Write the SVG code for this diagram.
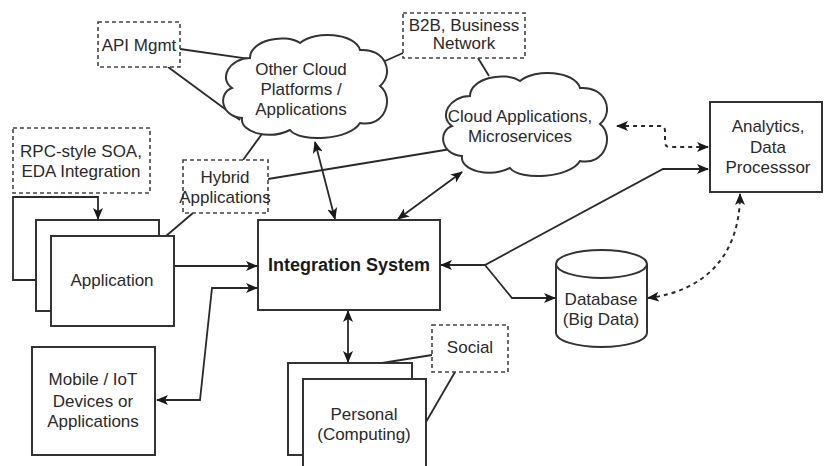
<svg xmlns="http://www.w3.org/2000/svg" width="824" height="466" viewBox="0 0 824 466">
<style>
.bg{fill:#fff}
.box{fill:#fff;stroke:#333;stroke-width:2}
.note{fill:#fff;stroke:#444;stroke-width:1.6;stroke-dasharray:4 3}
.ln{fill:none;stroke:#2a2a2a;stroke-width:1.8}
.dl{fill:none;stroke:#2a2a2a;stroke-width:2;stroke-dasharray:4 4}
text{font-family:"Liberation Sans",Arial,sans-serif;font-size:17px;fill:#2a2a2a;text-anchor:middle}
.b{font-weight:bold;font-size:18px;fill:#1a1a1a}
</style>
<defs>
<marker id="ah" viewBox="0 0 12 10" refX="11" refY="5" markerWidth="12" markerHeight="10" orient="auto-start-reverse" markerUnits="userSpaceOnUse">
<path d="M0,0 L12,5 L0,10 L3,5 Z" fill="#1a1a1a"/>
</marker>
<path id="cloud" d="M27,22 C27,4 62,-3 77,7 C92,-6 132,-3 137,14 C162,12 172,37 157,50 C172,62 162,92 137,87 C127,104 77,107 67,94 C47,104 17,97 19,82 C-3,80 -5,57 9,52 C-5,42 7,22 27,22 Z" fill="#fff" stroke="#333" stroke-width="2"/>
</defs>
<rect class="bg" x="0" y="0" width="824" height="466"/>

<g id="connectors">
<path class="ln" d="M98,219 L98,197 L13,197 L13,280 L50,280" marker-start="url(#ah)" marker-end="url(#ah)"/>
<path class="ln" d="M174,266 L257,266" marker-end="url(#ah)"/>
<path class="ln" d="M257,288 L212,288 L200,400 L157,400" marker-start="url(#ah)" marker-end="url(#ah)"/>
<path class="ln" d="M166,236 L193,213"/>
<path class="ln" d="M243,160 L267,127"/>
<path class="ln" d="M268,179 L451,149"/>
<path class="ln" d="M180,49 L257,60"/>
<path class="ln" d="M168,67 L240,120"/>
<path class="ln" d="M385,61 L403,53"/>
<path class="ln" d="M478,58 L489,76"/>
<path class="ln" d="M315,142 L335,219" marker-start="url(#ah)" marker-end="url(#ah)"/>
<path class="ln" d="M462,172 L398,219" marker-start="url(#ah)" marker-end="url(#ah)"/>
<path class="ln" d="M441,265 L485,265 L663,169 L708,169" marker-start="url(#ah)" marker-end="url(#ah)"/>
<path class="ln" d="M485,265 L512,298 L555,298" marker-end="url(#ah)"/>
<path class="dl" d="M617,126 L660,126 Q665,126 665,131 L665,142 Q665,147 670,147 L708,147" marker-start="url(#ah)" marker-end="url(#ah)"/>
<path class="dl" d="M648,298 C700,292 740,260 740,194" marker-start="url(#ah)" marker-end="url(#ah)"/>
<path class="ln" d="M348,311 L348,362" marker-start="url(#ah)" marker-end="url(#ah)"/>
<path class="ln" d="M382,363 L432,355"/>
<path class="ln" d="M455,372 L426,422"/>
</g>

<g id="api-mgmt">
<rect class="note" x="98" y="22" width="82" height="45"/>
<text x="139" y="51">API Mgmt</text>
</g>

<g id="b2b">
<rect class="note" x="403" y="13" width="122" height="45"/>
<text x="464" y="31">B2B, Business</text>
<text x="464" y="49">Network</text>
</g>

<g id="other-cloud">
<use href="#cloud" transform="translate(223,36)"/>
<text x="301" y="75">Other Cloud</text>
<text x="301" y="95">Platforms /</text>
<text x="301" y="115">Applications</text>
</g>

<g id="cloud-apps">
<use href="#cloud" transform="translate(443,74)"/>
<text x="520" y="122">Cloud Applications,</text>
<text x="520" y="142">Microservices</text>
</g>

<g id="rpc">
<rect class="note" x="13" y="128" width="137" height="65"/>
<text x="81" y="157">RPC-style SOA,</text>
<text x="81" y="177">EDA Integration</text>
</g>

<g id="hybrid">
<rect class="note" x="183" y="160" width="85" height="53"/>
<text x="225" y="183">Hybrid</text>
<text x="225" y="203">Applications</text>
</g>

<g id="application">
<rect class="box" x="36" y="220" width="123" height="91"/>
<rect class="box" x="51" y="236" width="123" height="90"/>
<text x="112" y="286">Application</text>
</g>

<g id="mobile">
<rect class="box" x="32" y="347" width="123" height="108"/>
<text x="93" y="385">Mobile / IoT</text>
<text x="93" y="407">Devices or</text>
<text x="93" y="427">Applications</text>
</g>

<g id="integration">
<rect class="box" x="258" y="220" width="182" height="90"/>
<text class="b" x="349" y="271">Integration System</text>
</g>

<g id="analytics">
<rect class="box" x="710" y="102" width="112" height="90"/>
<text x="768" y="132">Analytics,</text>
<text x="768" y="153">Data</text>
<text x="768" y="173">Processsor</text>
</g>

<g id="database">
<path class="box" d="M556,264 L556,333 A45.5,14 0 0 0 647,333 L647,264"/>
<ellipse class="box" cx="601.5" cy="264" rx="45.5" ry="14"/>
<text x="601" y="305">Database</text>
<text x="601" y="325">(Big Data)</text>
</g>

<g id="social">
<rect class="note" x="432" y="325" width="76" height="47"/>
<text x="470" y="353">Social</text>
</g>

<g id="personal">
<rect class="box" x="288" y="363" width="124" height="92"/>
<rect class="box" x="303" y="379" width="123" height="95"/>
<text x="364" y="420">Personal</text>
<text x="364" y="440">(Computing)</text>
</g>
</svg>
